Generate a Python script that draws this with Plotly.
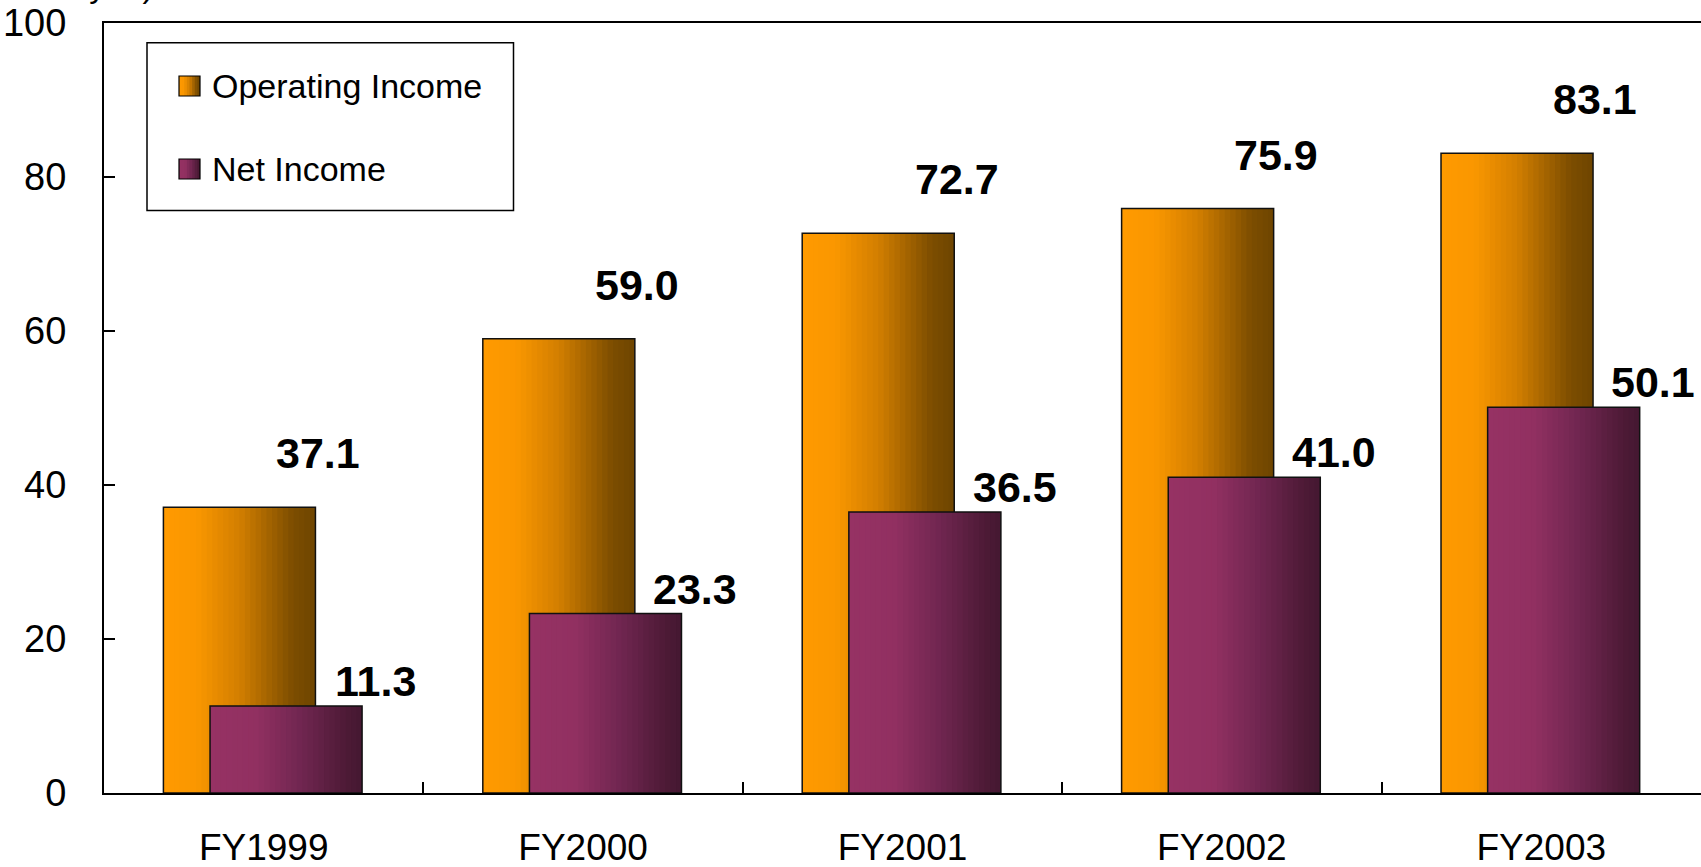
import plotly.graph_objects as go

# ---------------- data ----------------
categories = ["FY1999", "FY2000", "FY2001", "FY2002", "FY2003"]
operating_income = [37.1, 59.0, 72.7, 75.9, 83.1]
net_income = [11.3, 23.3, 36.5, 41.0, 50.1]
y_ticks = [0, 20, 40, 60, 80, 100]
unit_label = "(Billion yen)"

# ---------------- style ----------------
W, H = 1701, 867
ML, MR, MT, MB = 104, 0, 23, 74
PW, PH = W - ML - MR, H - MT - MB

BAR_W = 0.476
OP_OFF = -0.314
NET_OFF = -0.168
N_STRIPS = 28

OP_STOPS = [(0.0, (255, 154, 0)), (0.22, (250, 151, 0)), (0.5, (210, 126, 0)),
            (0.85, (125, 78, 0)), (1.0, (110, 69, 0))]
NET_STOPS = [(0.0, (150, 50, 100)), (0.3, (145, 48, 97)), (0.6, (112, 38, 80)),
             (0.9, (77, 26, 54)), (1.0, (69, 24, 49))]

FONT = "Liberation Sans, Arial, sans-serif"


def grad(stops, t):
    for (t0, c0), (t1, c1) in zip(stops[:-1], stops[1:]):
        if t <= t1:
            f = 0 if t1 == t0 else (t - t0) / (t1 - t0)
            c = [round(a + (b - a) * f) for a, b in zip(c0, c1)]
            return "rgb(%d,%d,%d)" % tuple(c)
    return "rgb(%d,%d,%d)" % stops[-1][1]


fig = go.Figure()


def add_series(values, offset, stops):
    step = BAR_W / N_STRIPS
    for i in range(N_STRIPS):
        x0 = offset + i * step
        wi = min(step * 1.6, offset + BAR_W - x0)
        fig.add_trace(go.Bar(
            x=categories, y=values, offset=x0, width=wi,
            marker=dict(color=grad(stops, (i + 0.5) / N_STRIPS), line=dict(width=0)),
            showlegend=False, hoverinfo="skip"))
    fig.add_trace(go.Bar(
        x=categories, y=values, offset=offset, width=BAR_W,
        marker=dict(color="rgba(0,0,0,0)", line=dict(color="#111111", width=1.5)),
        showlegend=False, hoverinfo="skip"))


add_series(operating_income, OP_OFF, OP_STOPS)
add_series(net_income, NET_OFF, NET_STOPS)

annotations = []
for c, v in zip(categories, operating_income):
    annotations.append(dict(x=c, y=v, xref="x", yref="y", text=f"{v:.1f}", showarrow=False,
                            xshift=54, yshift=54, xanchor="center", yanchor="middle",
                            font=dict(family=FONT, size=43, color="black", weight="bold")))
for c, v in zip(categories, net_income):
    annotations.append(dict(x=c, y=v, xref="x", yref="y", text=f"{v:.1f}", showarrow=False,
                            xshift=112, yshift=25, xanchor="center", yanchor="middle",
                            font=dict(family=FONT, size=43, color="black", weight="bold")))


def px_x(px):
    return (px - ML) / PW


def px_y(py):
    return (H - MB - py) / PH


shapes = []
# legend box
shapes.append(dict(type="rect", xref="paper", yref="paper",
                   x0=px_x(147), x1=px_x(513.5), y0=px_y(210.5), y1=px_y(42.7),
                   line=dict(color="black", width=1.5), fillcolor="white", layer="above"))
legend_items = [("Operating Income", OP_STOPS, 86), ("Net Income", NET_STOPS, 169)]
for name, stops, cy in legend_items:
    sx0, sx1 = 179, 200
    n = 8
    for i in range(n):
        a = sx0 + (sx1 - sx0) * i / n
        b = sx0 + (sx1 - sx0) * (i + 1.3) / n
        b = min(b, sx1)
        shapes.append(dict(type="rect", xref="paper", yref="paper",
                           x0=px_x(a), x1=px_x(b), y0=px_y(cy + 10), y1=px_y(cy - 10),
                           line=dict(width=0), fillcolor=grad(stops, (i + 0.5) / n), layer="above"))
    shapes.append(dict(type="rect", xref="paper", yref="paper",
                       x0=px_x(sx0), x1=px_x(sx1), y0=px_y(cy + 10), y1=px_y(cy - 10),
                       line=dict(color="black", width=1.2), fillcolor="rgba(0,0,0,0)", layer="above"))
    annotations.append(dict(x=px_x(210), y=px_y(cy), xref="paper", yref="paper", text=name,
                            showarrow=False, xanchor="left", yanchor="middle",
                            font=dict(family=FONT, size=34, color="black")))

annotations.append(dict(x=px_x(155), y=px_y(6), xref="paper", yref="paper", text=unit_label,
                        showarrow=False, xanchor="right", yanchor="bottom",
                        font=dict(family=FONT, size=33, color="black")))

fig.update_layout(
    width=W, height=H,
    margin=dict(l=ML, r=MR, t=MT, b=MB, autoexpand=False),
    paper_bgcolor="white", plot_bgcolor="white",
    barmode="overlay",
    showlegend=False,
    annotations=annotations,
    shapes=shapes,
    font=dict(family=FONT, color="black"),
)
fig.update_xaxes(
    type="category", range=[-0.5, 4.5], showline=True, linecolor="black", linewidth=2,
    mirror=True, ticks="inside", ticklen=11, tickwidth=1.5, tickcolor="black",
    tickson="boundaries", showgrid=False, zeroline=False, automargin=False,
    tickfont=dict(family=FONT, size=37, color="black"), ticklabelstandoff=21,
)
fig.update_yaxes(
    range=[0, 100], tickvals=y_ticks, showline=True, linecolor="black", linewidth=2,
    ticks="inside", ticklen=11, tickwidth=1.5, tickcolor="black",
    showgrid=False, zeroline=False, automargin=False,
    tickfont=dict(family=FONT, size=38, color="black"), ticklabelstandoff=28,
)

fig.write_html(
    "out.html",
    config={"displayModeBar": False},
    post_script="document.body.style.margin='0';document.body.style.overflow='hidden';"
                "document.documentElement.style.overflow='hidden';",
)
